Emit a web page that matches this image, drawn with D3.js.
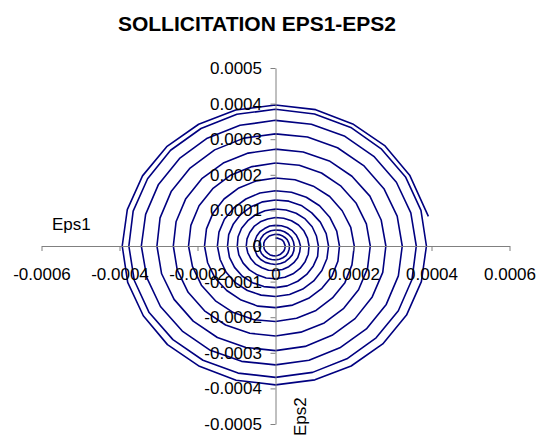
<!DOCTYPE html>
<html>
<head>
<meta charset="utf-8">
<script src="https://cdn.jsdelivr.net/npm/d3@7"></script>
<style>
  html, body { margin: 0; padding: 0; background: #fff; }
  svg { display: block; font-family: "Liberation Sans", Arial, sans-serif; }
</style>
</head>
<body>
<svg id="chart" width="538" height="439"></svg>
<script>
// Chart texts
const chartTitle = "SOLLICITATION EPS1-EPS2";
const xAxisTitle = "Eps1";
const yAxisTitle = "Eps2";

// Axis ticks and their labels
const xTicks = [-0.0006, -0.0004, -0.0002, 0, 0.0002, 0.0004, 0.0006];
const xTickLabels = ["-0.0006", "-0.0004", "-0.0002", "0", "0.0002", "0.0004", "0.0006"];
const yTicks = [0.0005, 0.0004, 0.0003, 0.0002, 0.0001, 0, -0.0001, -0.0002, -0.0003, -0.0004, -0.0005];
const yTickLabels = ["0.0005", "0.0004", "0.0003", "0.0002", "0.0001", "0", "-0.0001", "-0.0002", "-0.0003", "-0.0004", "-0.0005"];

// Loading path: strain components in microstrain (1e-6), one row per turn
const eps1 = [
  0, 6, 11, 17, 21, 23, 25, 24, 22, 18, 13, 7, 0, -7, -14, -20, -25, -29, -30, -30, -27, -22, -16, -8,
  0, 9, 17, 24, 30, 34, 36, 35, 32, 27, 19, 10, 0, -10, -20, -29, -36, -40, -42, -41, -37, -31, -22, -12,
  0, 12, 23, 33, 41, 46, 48, 47, 43, 35, 25, 13, 0, -13, -26, -38, -47, -52, -55, -53, -48, -40, -28, -15,
  0, 15, 30, 43, 53, 60, 64, 62, 57, 47, 34, 18, 0, -18, -35, -51, -63, -71, -75, -73, -66, -55, -39, -20,
  0, 21, 41, 59, 73, 82, 86, 84, 76, 63, 45, 24, 0, -24, -47, -67, -83, -94, -98, -96, -87, -71, -51, -27,
  0, 27, 53, 76, 94, 105, 110, 108, 97, 80, 57, 30, 0, -30, -59, -85, -105, -118, -123, -120, -108, -89, -63, -33,
  0, 34, 66, 93, 115, 130, 136, 132, 119, 98, 70, 36, 0, -37, -72, -103, -127, -142, -149, -145, -131, -107, -76, -40,
  0, 41, 79, 113, 139, 157, 164, 160, 145, 119, 85, 44, 0, -45, -88, -125, -155, -174, -182, -177, -160, -132, -94, -49,
  0, 50, 97, 139, 171, 193, 202, 196, 178, 146, 104, 54, 0, -55, -108, -154, -190, -213, -223, -217, -196, -161, -115, -60,
  0, 61, 118, 168, 207, 233, 243, 236, 213, 175, 125, 65, 0, -66, -128, -182, -224, -252, -262, -255, -230, -189, -134, -70,
  0, 71, 138, 196, 242, 271, 283, 275, 248, 204, 145, 76, 0, -76, -149, -211, -260, -292, -304, -296, -267, -219, -156, -81,
  0, 82, 159, 226, 278, 312, 325, 315, 284, 233, 165, 86, 0, -87, -169, -239, -295, -330, -344, -333, -300, -246, -175, -91,
  0, 92, 178, 252, 310, 347, 361, 350, 315, 258, 183, 95, 0, -96, -186, -263, -324, -362, -376, -365, -328, -269, -191, -99,
  0, 100, 193, 272, 334, 373, 387, 374, 336, 275, 194, 101, 0, -101, -195, -277, -339, -379, -393, -380, -341, -279, -197, -102,
  0, 103, 198, 281, 344, 392
];
const eps2 = [
  22, 22, 20, 17, 12, 6, 0, -7, -13, -18, -23, -26, -28, -27, -25, -20, -15, -8, 0, 8, 16, 22, 28, 31,
  33, 32, 29, 24, 18, 9, 0, -9, -19, -27, -33, -37, -39, -38, -35, -29, -21, -11, 0, 11, 22, 31, 38, 43,
  45, 44, 40, 33, 24, 12, 0, -13, -25, -35, -44, -49, -52, -50, -46, -38, -27, -14, 0, 14, 28, 40, 49, 56,
  58, 57, 52, 43, 31, 16, 0, -17, -33, -47, -58, -66, -69, -68, -61, -51, -36, -19, 0, 20, 38, 55, 68, 76,
  80, 78, 71, 59, 42, 22, 0, -23, -44, -63, -78, -88, -92, -90, -81, -67, -48, -25, 0, 26, 50, 71, 88, 99,
  104, 101, 92, 76, 54, 28, 0, -29, -56, -80, -99, -112, -117, -114, -103, -85, -60, -32, 0, 32, 62, 89, 110, 124,
  129, 126, 114, 93, 67, 35, 0, -35, -69, -98, -121, -136, -142, -138, -125, -103, -73, -38, 0, 39, 75, 107, 132, 149,
  155, 151, 137, 113, 81, 42, 0, -43, -84, -119, -147, -166, -173, -169, -152, -125, -90, -47, 0, 48, 93, 132, 163, 183,
  191, 186, 168, 139, 99, 52, 0, -53, -103, -146, -181, -203, -212, -207, -187, -154, -110, -57, 0, 58, 113, 161, 199, 223,
  233, 227, 205, 168, 120, 62, 0, -63, -123, -175, -216, -242, -253, -245, -222, -182, -130, -67, 0, 68, 133, 189, 233, 261,
  272, 264, 239, 196, 140, 73, 0, -74, -143, -204, -251, -282, -294, -285, -257, -211, -150, -78, 0, 79, 154, 219, 270, 303,
  315, 306, 276, 226, 161, 84, 0, -84, -164, -233, -286, -321, -334, -324, -292, -239, -170, -89, 0, 89, 173, 246, 303, 339,
  353, 342, 308, 252, 179, 93, 0, -94, -182, -258, -317, -355, -369, -357, -321, -263, -187, -97, 0, 98, 189, 269, 330, 370,
  384, 371, 333, 272, 193, 100, 0, -100, -194, -275, -337, -376, -390, -377, -338, -277, -196, -102, 0, 102, 197, 279, 342, 382,
  396, 383, 343, 281, 199, 83
];
const MICRO = 1e-6;

const svg = d3.select("#chart");
const FONT = '"Liberation Sans", Arial, sans-serif';

const x = d3.scaleLinear().domain([-0.0006, 0.0006]).range([41.5, 509.5]);
const y = d3.scaleLinear().domain([-0.0005, 0.0005]).range([424, 68]);

// Strain path
const points = eps1.map((e, i) => [e * MICRO, eps2[i] * MICRO]);
svg.append("path")
  .datum(points)
  .attr("fill", "none")
  .attr("stroke", "#000080")
  .attr("stroke-width", 1.6)
  .attr("stroke-linejoin", "round")
  .attr("d", d3.line().x(d => x(d[0])).y(d => y(d[1])));

// Axes crossing at the origin
const gx = svg.append("g")
  .attr("transform", `translate(0,${y(0)})`)
  .call(d3.axisBottom(x).tickValues(xTicks)
    .tickFormat((d, i) => xTickLabels[i])
    .tickSize(5).tickSizeOuter(0).tickPadding(17));

const gy = svg.append("g")
  .attr("transform", `translate(${x(0)},0)`)
  .call(d3.axisLeft(y).tickValues(yTicks)
    .tickFormat((d, i) => yTickLabels[i])
    .tickSize(5).tickSizeOuter(0).tickPadding(8.5));

[gx, gy].forEach(g => {
  g.attr("font-family", FONT).attr("font-size", 17);
  g.selectAll("path, line").attr("stroke", "#808080");
  g.selectAll("text").attr("fill", "#000");
});

// Title
svg.append("text")
  .attr("x", 257).attr("y", 31)
  .attr("text-anchor", "middle")
  .attr("font-family", FONT)
  .attr("font-weight", "bold")
  .attr("font-size", 21)
  .text(chartTitle);

// Axis titles
svg.append("text")
  .attr("x", 52).attr("y", 230)
  .attr("font-family", FONT)
  .attr("font-size", 17)
  .text(xAxisTitle);

svg.append("text")
  .attr("transform", "translate(305.5,416.7) rotate(-90)")
  .attr("text-anchor", "middle")
  .attr("font-family", FONT)
  .attr("font-size", 17)
  .text(yAxisTitle);
</script>
</body>
</html>
